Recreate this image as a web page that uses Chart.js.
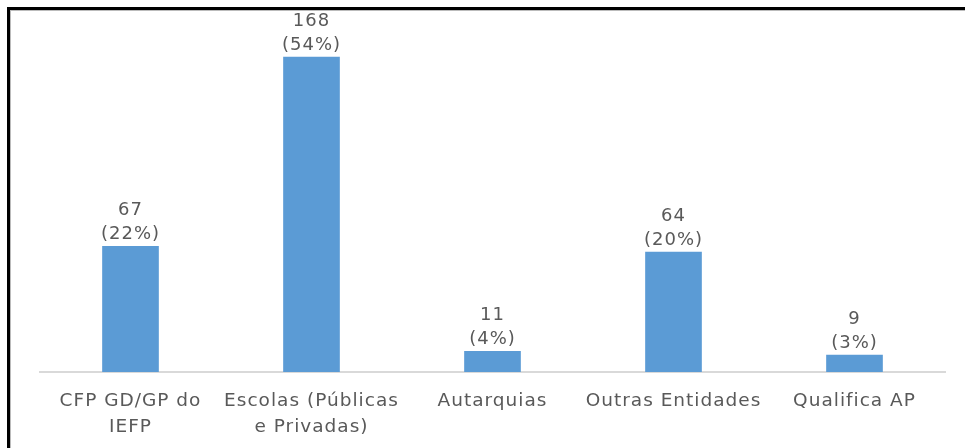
<!DOCTYPE html>
<html>
<head>
<meta charset="utf-8">
<script src="https://cdn.jsdelivr.net/npm/chart.js@4/dist/chart.umd.min.js"></script>
<style>
  html, body { margin: 0; padding: 0; background: #fff; overflow: hidden; }
  #frame { position: absolute; left: 7px; top: 7px; width: 1000px; height: 500px;
           border-left: 3px solid #000; border-top: 3px solid #000;
           box-shadow: inset 1px 1px 0 #bbb; }
  #wrap { position: absolute; left: 0; top: 0; width: 965px; height: 448px; }
</style>
</head>
<body>
<div id="frame"></div>
<div id="wrap"><canvas id="myChart"></canvas></div>
<script>
// categories (x axis)
let labels = [['CFP GD/GP do', 'IEFP'], ['Escolas (Públicas', 'e Privadas)'], 'Autarquias', 'Outras Entidades', 'Qualifica AP'];
// values and shares
let values = [67, 168, 11, 64, 9];
let shares = ['22%', '54%', '4%', '20%', '3%'];

let fontFam = 'DejaVu Sans, sans-serif';

// wider text spacing, like the original
let spacing = {
    id: 'spacing',
    beforeDraw(chart) { chart.ctx.letterSpacing = '1px'; }
};

// two-line labels above the bars: value and (share)
let barLabels = {
    id: 'barLabels',
    afterDatasetsDraw(chart) {
        let ctx = chart.ctx;
        let meta = chart.getDatasetMeta(0);
        ctx.save();
        ctx.letterSpacing = '1px';
        ctx.fillStyle = '#595959';
        ctx.font = '18px ' + fontFam;
        ctx.textAlign = 'center';
        ctx.textBaseline = 'middle';
        meta.data.forEach(function (bar, i) {
            ctx.fillText(values[i], bar.x, bar.y - 36);
            ctx.fillText('(' + shares[i] + ')', bar.x, bar.y - 12);
        });
        ctx.restore();
    }
};

let myChart = new Chart(document.getElementById('myChart'), {
    type: 'bar',
    data: {
        labels: labels,
        datasets: [{
            data: values,
            backgroundColor: '#5B9BD5',
            barThickness: 56
        }]
    },
    options: {
        responsive: true,
        maintainAspectRatio: false,
        animation: false,
        layout: { padding: { left: 40, right: 20, top: 34.5, bottom: 0 } },
        plugins: {
            legend: { display: false },
            tooltip: { enabled: false }
        },
        scales: {
            x: {
                grid: { display: false, drawTicks: false },
                border: { color: '#d9d9d9', width: 2 },
                ticks: {
                    color: '#595959',
                    font: { family: fontFam, size: 18.5, lineHeight: 1.4 },
                    padding: 16,
                    maxRotation: 0,
                    autoSkip: false
                },
                afterFit(scale) { scale.height = 76; }
            },
            y: {
                display: false,
                min: 0,
                max: 180
            }
        }
    },
    plugins: [spacing, barLabels]
});
</script>
</body>
</html>
